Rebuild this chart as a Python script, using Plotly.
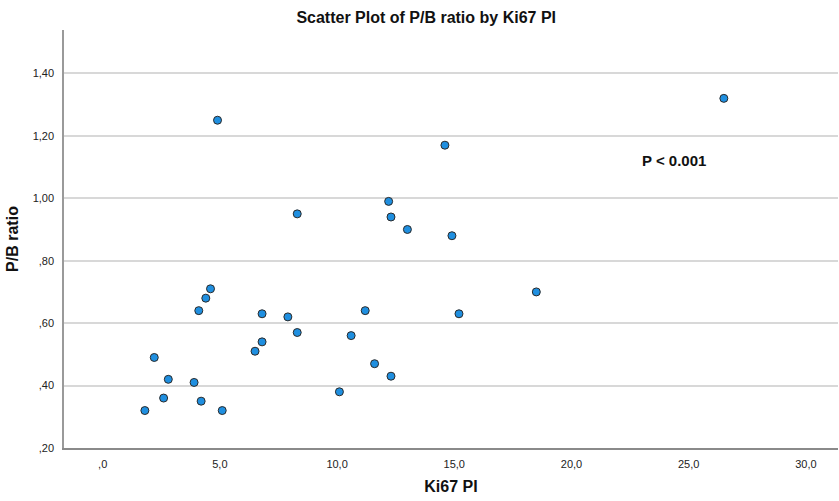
import plotly.graph_objects as go

ki67 = [1.8, 2.2, 2.6, 2.8, 3.9, 4.1, 4.2, 4.4, 4.6, 4.9, 5.1, 6.5, 6.8, 6.8, 7.9,
        8.3, 8.3, 10.1, 10.6, 11.2, 11.6, 12.2, 12.3, 12.3, 13.0, 14.6, 14.9, 15.2, 18.5, 26.5]
pb_ratio = [0.32, 0.49, 0.36, 0.42, 0.41, 0.64, 0.35, 0.68, 0.71, 1.25, 0.32, 0.51, 0.54, 0.63, 0.62,
            0.95, 0.57, 0.38, 0.56, 0.64, 0.47, 0.99, 0.94, 0.43, 0.90, 1.17, 0.88, 0.63, 0.70, 1.32]

x_tickvals = [0, 5, 10, 15, 20, 25, 30]
x_ticktext = [",0", "5,0", "10,0", "15,0", "20,0", "25,0", "30,0"]
y_tickvals = [0.20, 0.40, 0.60, 0.80, 1.00, 1.20, 1.40]
y_ticktext = [",20", ",40", ",60", ",80", "1,00", "1,20", "1,40"]

fig = go.Figure()
fig.add_trace(go.Scatter(
    x=ki67, y=pb_ratio, mode="markers",
    marker=dict(size=8, color="#1f8fe0", line=dict(width=1, color="#2a2a2a")),
    showlegend=False, cliponaxis=False,
))

fig.add_annotation(x=24.38, y=1.122, text="<b>P < 0.001</b>", showarrow=False,
                   font=dict(family="Liberation Sans, Arial", size=15, color="#111"))

fig.update_layout(
    width=839, height=501,
    margin=dict(l=64, r=1, t=30, b=53),
    paper_bgcolor="white", plot_bgcolor="white",
    font=dict(family="Liberation Sans, Arial", color="#222"),
    title=dict(text="<b>Scatter Plot of P/B ratio by Ki67 PI</b>", x=0.508, xanchor="center",
               y=0.966, yanchor="middle", font=dict(size=16, color="#111")),
    xaxis=dict(range=[-1.65, 31.37], tickvals=x_tickvals, ticktext=x_ticktext,
               showgrid=False, zeroline=False, showline=True, linecolor="#8a8a8a", linewidth=1.5,
               ticks="", tickfont=dict(size=11, color="#222"), ticklabelstandoff=5,
               title=dict(text="<b>Ki67 PI</b>", font=dict(size=16, color="#111"), standoff=12)),
    yaxis=dict(range=[0.20, 1.539], tickvals=y_tickvals, ticktext=y_ticktext,
               showgrid=True, gridcolor="#d8d8d8", gridwidth=1.5, zeroline=False,
               showline=True, linecolor="#9a9a9a", linewidth=1.5,
               ticks="", tickfont=dict(size=11, color="#222"), ticklabelstandoff=6,
               title=dict(text="<b>P/B ratio</b>", font=dict(size=16, color="#111"), standoff=10)),
)

fig.write_html("out.html")
